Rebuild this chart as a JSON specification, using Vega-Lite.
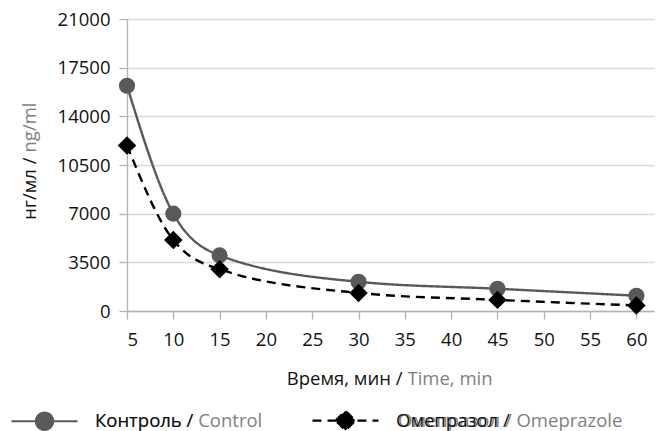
{
  "$schema": "https://vega.github.io/schema/vega-lite/v6.json",
  "width": 527,
  "height": 292,
  "autosize": {"type": "none"},
  "padding": {"left": 127, "top": 19, "right": 11, "bottom": 120},
  "background": "white",
  "config": {
    "font": "Open Sans",
    "view": {"stroke": null},
    "axis": {
      "labelFont": "Open Sans",
      "labelFontSize": 18.5,
      "labelColor": "#111111",
      "titleFont": "Open Sans",
      "titleFontSize": 18.5,
      "titleFontWeight": "normal",
      "titleColor": "#111111",
      "tickColor": "#b3b3b3",
      "domainColor": "#b3b3b3",
      "gridColor": "#d9d9d9",
      "tickSize": 8,
      "domainWidth": 1.3,
      "tickWidth": 1.3,
      "gridWidth": 1.3
    },
    "legend": {
      "labelFont": "Open Sans",
      "labelFontSize": 18.5,
      "labelLimit": 400
    }
  },
  "datasets": {
    "pk": [
      {"time": 5, "conc": 16200, "series": "Контроль / Control"},
      {"time": 10, "conc": 7000, "series": "Контроль / Control"},
      {"time": 15, "conc": 4000, "series": "Контроль / Control"},
      {"time": 30, "conc": 2100, "series": "Контроль / Control"},
      {"time": 45, "conc": 1600, "series": "Контроль / Control"},
      {"time": 60, "conc": 1100, "series": "Контроль / Control"},
      {"time": 5, "conc": 11900, "series": "Омепразол / Omeprazole"},
      {"time": 10, "conc": 5100, "series": "Омепразол / Omeprazole"},
      {"time": 15, "conc": 3000, "series": "Омепразол / Omeprazole"},
      {"time": 30, "conc": 1300, "series": "Омепразол / Omeprazole"},
      {"time": 45, "conc": 800, "series": "Омепразол / Omeprazole"},
      {"time": 60, "conc": 400, "series": "Омепразол / Omeprazole"}
    ]
  },
  "data": {"name": "pk"},
  "layer": [
    {
      "mark": {"type": "line", "interpolate": "monotone", "strokeWidth": 2.4},
      "encoding": {
        "x": {
          "field": "time", "type": "quantitative",
          "scale": {"domain": [5, 61.9], "nice": false, "zero": false},
          "axis": {
            "values": [5, 10, 15, 20, 25, 30, 35, 40, 45, 50, 55, 60],
            "format": "d",
            "grid": false,
            "labelPadding": 11,
            "title": "Время, мин /",
            "titleAlign": "right",
            "titleAnchor": null,
            "titleX": 275,
            "titleY": 67,
            "titleBaseline": "middle"
          }
        },
        "y": {
          "field": "conc", "type": "quantitative",
          "scale": {"domain": [0, 21000], "nice": false},
          "axis": {
            "values": [0, 3500, 7000, 10500, 14000, 17500, 21000],
            "format": "d",
            "grid": true,
            "labelPadding": 9,
            "title": "нг/мл /",
            "titleAngle": 270,
            "titleAlign": "right",
            "titleAnchor": null,
            "titleX": -98,
            "titleY": 138,
            "titleBaseline": "middle"
          }
        },
        "color": {
          "field": "series", "type": "nominal",
          "scale": {"domain": ["Контроль / Control", "Омепразол / Omeprazole"], "range": ["#595959", "#000000"]},
          "legend": {
            "orient": "none",
            "legendX": -117,
            "legendY": 367,
            "direction": "horizontal",
            "title": null,
            "symbolSize": 4356,
            "symbolStrokeWidth": 2.2,
            "symbolOpacity": 0,
            "labelColor": "#7f7f7f",
            "labelOffset": 16,
            "columnPadding": 50,
            "encode": {
              "symbols": {
                "update": {
                  "size": {"value": 4356},
                  "opacity": {"value": 0},
                  "strokeWidth": {"value": 2.2}
                }
              }
            }
          }
        },
        "strokeDash": {
          "field": "series", "type": "nominal",
          "scale": {"range": [[1, 0], [9, 6]]},
          "legend": {
            "orient": "none",
            "legendX": -117,
            "legendY": 367,
            "direction": "horizontal",
            "title": null,
            "symbolSize": 4356,
            "symbolStrokeWidth": 2.2,
            "labelColor": "#111111",
            "labelOffset": 16,
            "columnPadding": 114,
            "labelExpr": "split(datum.label, ' / ')[0] + ' /'",
            "encode": {
              "symbols": {
                "update": {
                  "size": {"value": 4356},
                  "opacity": {"value": 1},
                  "shape": {"signal": "datum.value === 'Контроль / Control' ? 'M-1,0H1M0.26,0A0.26,0.26,0,1,1,-0.26,0A0.26,0.26,0,1,1,0.26,0Z' : 'M-1,0H1M-0.3,0L0,-0.3L0.3,0L0,0.3Z'"},
                  "fill": {"signal": "datum.value === 'Контроль / Control' ? '#595959' : '#000000'"},
                  "stroke": {"signal": "datum.value === 'Контроль / Control' ? '#595959' : '#000000'"},
                  "strokeWidth": {"value": 2.2}
                }
              }
            }
          }
        }
      }
    },
    {
      "transform": [{"filter": "datum.series === 'Контроль / Control'"}],
      "mark": {"type": "point", "shape": "circle", "filled": true, "opacity": 1, "size": 260, "color": "#595959"},
      "encoding": {
        "x": {"field": "time", "type": "quantitative", "axis": null},
        "y": {"field": "conc", "type": "quantitative", "axis": null}
      }
    },
    {
      "transform": [{"filter": "datum.series === 'Омепразол / Omeprazole'"}],
      "mark": {"type": "point", "shape": "diamond", "filled": true, "opacity": 1, "size": 340, "color": "#000000"},
      "encoding": {
        "x": {"field": "time", "type": "quantitative", "axis": null},
        "y": {"field": "conc", "type": "quantitative", "axis": null}
      }
    },
    {
      "mark": {"type": "point", "opacity": 0},
      "encoding": {
        "x": {
          "field": "time", "type": "quantitative",
          "axis": {
            "orient": "bottom",
            "labels": false, "ticks": false, "domain": false, "grid": false,
            "title": "Time, min",
            "titleColor": "#7f7f7f",
            "titleAlign": "left",
            "titleAnchor": null,
            "titleX": 280,
            "titleY": 67,
            "titleBaseline": "middle"
          }
        },
        "y": {
          "field": "conc", "type": "quantitative",
          "axis": {
            "orient": "left",
            "labels": false, "ticks": false, "domain": false, "grid": false,
            "title": "ng/ml",
            "titleColor": "#7f7f7f",
            "titleAngle": 270,
            "titleAlign": "left",
            "titleAnchor": null,
            "titleX": -98,
            "titleY": 133,
            "titleBaseline": "middle"
          }
        }
      }
    }
  ],
  "resolve": {"axis": {"x": "independent", "y": "independent"}}
}
